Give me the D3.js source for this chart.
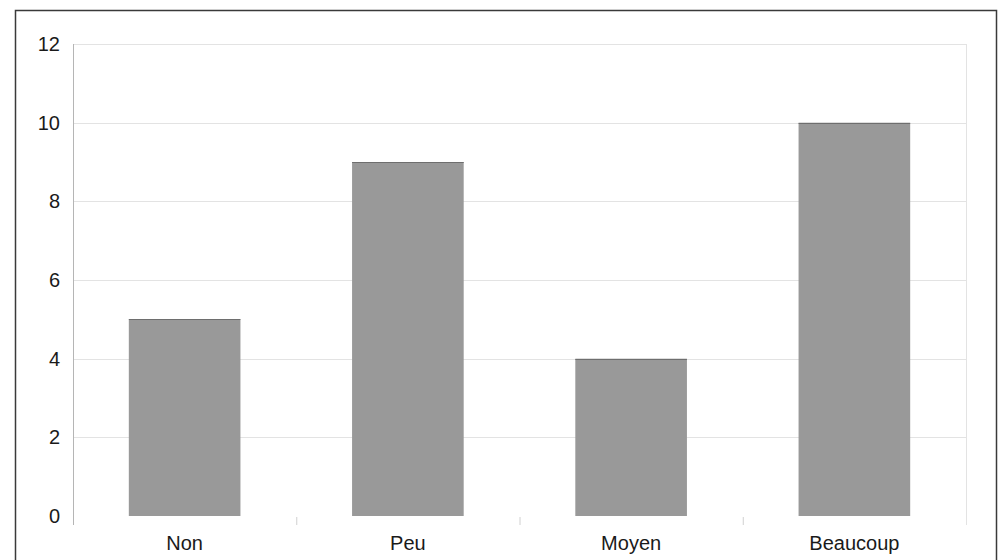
<!DOCTYPE html>
<html><head><meta charset="utf-8">
<script src="https://cdn.jsdelivr.net/npm/d3@7"></script>
<style>body{margin:0;background:#fff;}svg{display:block;}</style>
</head><body>
<svg id="c" width="1003" height="560"></svg>
<script>
const categories = ["Non", "Peu", "Moyen", "Beaucoup"];
const values = [5, 9, 4, 10];
const yTicks = [0, 2, 4, 6, 8, 10, 12];

const svg = d3.select("#c");
const W = 1003, H = 560;
const m = {left: 73, right: 37, top: 44, bottom: 44};
const x = d3.scaleBand().domain(categories).range([m.left, W - m.right]).paddingInner(0).paddingOuter(0);
const y = d3.scaleLinear().domain([0, 12]).range([H - m.bottom, m.top]);
const FONT = "Liberation Sans, Arial, sans-serif";

// outer frame
svg.append("rect").attr("x", 15.5).attr("y", 10.5).attr("width", 981).attr("height", 560)
  .attr("fill", "none").attr("stroke", "#3a3a3a").attr("stroke-width", 1.5);

// gridlines
svg.append("g").selectAll("line").data(yTicks.filter(d => d > 0)).join("line")
  .attr("x1", m.left).attr("x2", W - m.right)
  .attr("y1", d => Math.round(y(d)) + 0.5).attr("y2", d => Math.round(y(d)) + 0.5)
  .attr("stroke", "#e3e3e3").attr("stroke-width", 1);
// right plot edge
svg.append("line").attr("x1", W - m.right + 0.5).attr("x2", W - m.right + 0.5)
  .attr("y1", m.top).attr("y2", y(0) + 9).attr("stroke", "#e3e3e3");

// bars
const bw = x.bandwidth() * 0.5;
svg.append("g").selectAll("rect").data(values).join("rect")
  .attr("x", (d, i) => x(categories[i]) + (x.bandwidth() - bw) / 2)
  .attr("y", d => y(d))
  .attr("width", bw)
  .attr("height", d => y(0) - y(d))
  .attr("fill", "#999999");
svg.append("g").selectAll("line").data(values).join("line")
  .attr("x1", (d, i) => x(categories[i]) + (x.bandwidth() - bw) / 2)
  .attr("x2", (d, i) => x(categories[i]) + (x.bandwidth() + bw) / 2)
  .attr("y1", d => Math.round(y(d)) + 0.5).attr("y2", d => Math.round(y(d)) + 0.5)
  .attr("stroke", "#6e6e6e").attr("stroke-width", 1.2);

// y axis
const yAxis = d3.axisLeft(y).tickValues(yTicks).tickSize(0).tickPadding(13);
const gy = svg.append("g").attr("transform", `translate(${m.left},0)`).call(yAxis);
gy.select(".domain").remove();
gy.selectAll("text").attr("font-family", FONT).attr("font-size", 20).attr("fill", "#1a1a1a");
svg.append("line").attr("x1", m.left + 0.5).attr("x2", m.left + 0.5).attr("y1", m.top).attr("y2", y(0) + 9)
  .attr("stroke", "#b5b5b5");

// x axis
const xAxis = d3.axisBottom(x).tickSize(0).tickPadding(20);
const gx = svg.append("g").attr("transform", `translate(0,${y(0)})`).call(xAxis);
gx.select(".domain").remove();
gx.selectAll("text").attr("font-family", FONT).attr("font-size", 20).attr("fill", "#1a1a1a");
// category boundary ticks
svg.append("g").selectAll("line").data(categories.slice(1)).join("line")
  .attr("x1", d => x(d) + 0.5).attr("x2", d => x(d) + 0.5)
  .attr("y1", y(0) + 1).attr("y2", y(0) + 9).attr("stroke", "#d0d0d0");
</script>
</body></html>
